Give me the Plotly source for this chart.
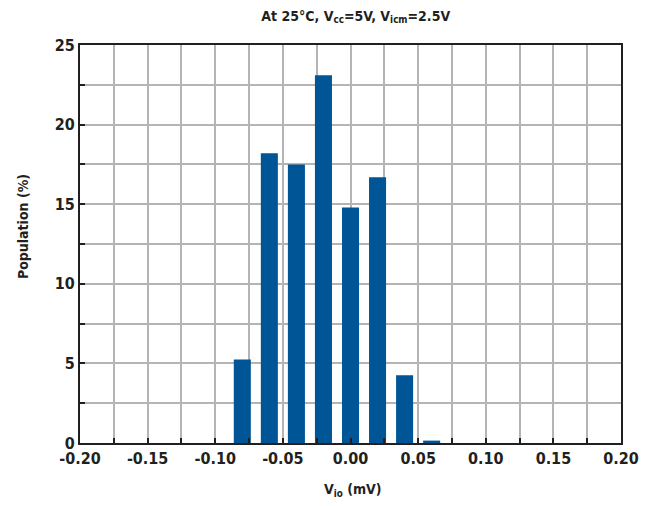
import plotly.graph_objects as go

bin_centers = [-0.08, -0.06, -0.04, -0.02, 0.00, 0.02, 0.04, 0.06]
population = [5.24, 18.2, 17.5, 23.1, 14.8, 16.7, 4.25, 0.15]
x_tick_vals = [-0.20, -0.15, -0.10, -0.05, 0.00, 0.05, 0.10, 0.15, 0.20]
x_tick_text = ["-0.20", "-0.15", "-0.10", "-0.05", "0.00", "0.05", "0.10", "0.15", "0.20"]
y_tick_vals = [0, 5, 10, 15, 20, 25]

FONT = "DejaVu Sans Condensed, Liberation Sans Narrow, sans-serif"
INK = "#231f20"
GRID = "#b4b4b4"

fig = go.Figure()
fig.add_trace(go.Bar(
    x=bin_centers, y=population, width=0.0126,
    marker=dict(color="#005596", line=dict(width=0)),
))

# page body adds an 8px offset; margins compensate
fig.update_layout(
    width=650, height=506,
    margin=dict(l=72, r=37, t=37, b=71),
    paper_bgcolor="white", plot_bgcolor="white",
    showlegend=False,
    font=dict(family=FONT, color=INK),
    title=dict(
        text="<b>At 25°C, V<sub>cc</sub>=5V, V<sub>icm</sub>=2.5V</b>",
        x=0.535, xanchor="center", y=0.985, yanchor="middle",
        font=dict(size=14, family=FONT, color=INK),
    ),
    annotations=[
        dict(text="<b>Population (%)</b>", xref="paper", yref="paper",
             x=-0.105, y=0.543, xanchor="center", yanchor="middle",
             textangle=-90, showarrow=False,
             font=dict(size=14, family=FONT, color=INK)),
        dict(text="<b>V<sub>io</sub> (mV)</b>", xref="paper", yref="paper",
             x=0.505, y=-0.118, xanchor="center", yanchor="middle",
             showarrow=False,
             font=dict(size=14, family=FONT, color=INK)),
    ],
)

fig.update_xaxes(
    range=[-0.2, 0.2],
    tickmode="array", tickvals=x_tick_vals,
    ticktext=["<b>%s</b>" % t for t in x_tick_text],
    tickfont=dict(size=16, family=FONT, color=INK),
    showgrid=True, gridcolor=GRID, gridwidth=1.5,
    minor=dict(dtick=0.025, tick0=0, showgrid=True, gridcolor=GRID, gridwidth=1.5,
               ticks="inside", ticklen=5, tickcolor=INK, tickwidth=2),
    ticks="inside", ticklen=5, tickcolor=INK, tickwidth=2,
    showline=True, linecolor=INK, linewidth=2, mirror=True,
    zeroline=False,
    automargin=False,
)

fig.update_yaxes(
    range=[0, 25],
    tickmode="array", tickvals=y_tick_vals,
    ticktext=["<b>%d</b>" % v for v in y_tick_vals],
    tickfont=dict(size=16, family=FONT, color=INK),
    showgrid=True, gridcolor=GRID, gridwidth=1.5,
    minor=dict(dtick=2.5, tick0=0, showgrid=True, gridcolor=GRID, gridwidth=1.5,
               ticks="inside", ticklen=5, tickcolor=INK, tickwidth=2),
    ticks="inside", ticklen=5, tickcolor=INK, tickwidth=2,
    showline=True, linecolor=INK, linewidth=2, mirror=True,
    zeroline=False,
    automargin=False,
)

fig.write_html("out.html")
